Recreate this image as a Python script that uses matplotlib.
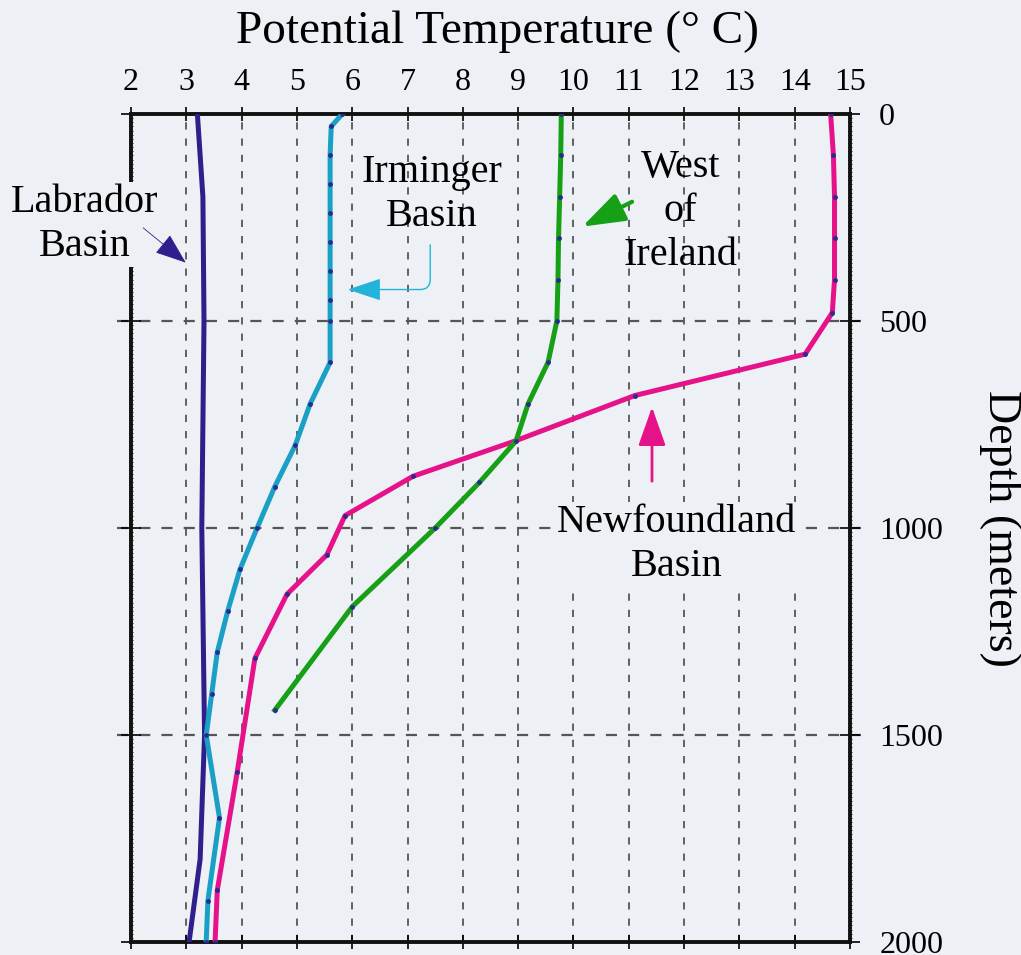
import matplotlib.pyplot as plt

plt.rcParams['font.family'] = ['Liberation Serif', 'DejaVu Serif']

# Profile data (depth in m, potential temperature in deg C)
lab_depth = [0, 200, 500, 1000, 1500, 1800, 2000]
lab_temp = [3.2, 3.3, 3.32, 3.28, 3.33, 3.25, 3.05]

irm_depth = [0, 30, 100, 170, 240, 310, 380, 450, 500, 600, 700, 800, 900, 1000,
             1100, 1200, 1300, 1400, 1500, 1700, 1900, 2000]
irm_temp = [5.82, 5.62, 5.6, 5.6, 5.6, 5.6, 5.6, 5.6, 5.6, 5.6, 5.24, 4.97, 4.6, 4.28,
            3.97, 3.75, 3.56, 3.46, 3.36, 3.6, 3.39, 3.36]

woi_depth = [0, 100, 200, 300, 400, 500, 600, 700, 790, 890, 1000, 1190, 1440]
woi_temp = [9.78, 9.77, 9.75, 9.73, 9.72, 9.7, 9.54, 9.18, 8.96, 8.3, 7.5, 6.0, 4.6]

nfl_depth = [0, 100, 200, 300, 400, 480, 580, 680, 790, 875, 970, 1065, 1160,
             1315, 1590, 1875, 2000]
nfl_temp = [14.65, 14.7, 14.72, 14.72, 14.72, 14.68, 14.19, 11.11, 8.94, 7.1, 5.87,
            5.54, 4.82, 4.24, 3.92, 3.56, 3.52]

temp_ticks = list(range(2, 16))
depth_ticks = [0, 500, 1000, 1500, 2000]

bg = '#edf0f5'
c_lab = '#2e1f8c'
c_irm = '#1aa0c4'
c_woi = '#16a016'
c_nfl = '#e6128a'
dot = '#2a2a90'

fig = plt.figure(figsize=(10.21, 9.55), dpi=100, facecolor=bg)
ax = fig.add_axes([131 / 1021, 1 - 942 / 955, 719 / 1021, 828 / 955])
ax.set_facecolor(bg)

ax.set_xlim(2, 15)
ax.set_ylim(2000, 0)

# grid
for t in temp_ticks[1:-1]:
    ax.axvline(t, color='#555555', lw=1.3, ls=(0, (4, 5)), zorder=1)
for d in depth_ticks[1:-1]:
    ax.axhline(d, xmin=-0.02, xmax=1.015, color='#555555', lw=1.6,
               ls=(0, (5, 5)), zorder=1, clip_on=False)

ax.plot(lab_temp, lab_depth, color=c_lab, lw=3.6, zorder=3)
ax.plot(irm_temp, irm_depth, color=c_irm, lw=3.6, marker='o', ms=3.5,
        mfc=dot, mec='none', zorder=3)
ax.plot(woi_temp, woi_depth, color=c_woi, lw=3.6, marker='o', ms=3.5,
        mfc=dot, mec='none', zorder=4)
ax.plot(nfl_temp, nfl_depth, color=c_nfl, lw=3.6, marker='o', ms=3.5,
        mfc=dot, mec='none', zorder=3)

# axes, ticks
for s in ax.spines.values():
    s.set_linewidth(2.8)
    s.set_color('#111111')
ax.xaxis.tick_top()
ax.set_xticks(temp_ticks)
ax.tick_params(axis='x', which='major', top=True, bottom=True, direction='inout',
               length=10, width=1.2, labelsize=23, pad=7)
ax.yaxis.tick_right()
ax.set_yticks(depth_ticks)
ax.tick_params(axis='y', which='major', left=True, right=True, direction='inout',
               length=14, width=1.2, labelsize=23, pad=14)
ax.set_yticks(range(0, 2001, 10), minor=True)
ax.tick_params(axis='y', which='minor', left=True, right=True, direction='inout',
               length=3, width=0.6)

fig.text(497 / 1021, 1 - 32 / 955, 'Potential Temperature (\u00b0 C)', fontsize=34,
         ha='center', va='center')
fig.text(1000 / 1021, 1 - 528 / 955, 'Depth (meters)', fontsize=33, rotation=-90,
         ha='center', va='center')

txt = dict(fontsize=29, ha='center', va='center', linespacing=1.25, zorder=6)

ax.text(1.17, 268, 'Labrador\nBasin', clip_on=False,
        bbox=dict(boxstyle='square,pad=0.05', fc=bg, ec='none'), **txt)
ax.annotate('', xy=(2.99, 359), xytext=(2.22, 275), annotation_clip=False,
            zorder=8,
            arrowprops=dict(arrowstyle='-|>,head_length=2.0,head_width=0.75',
                            color=c_lab, lw=0.6, shrinkA=0, shrinkB=0,
                            mutation_scale=10))

ax.text(7.44, 195, 'Irminger\nBasin', **txt)
ax.annotate('', xy=(5.92, 424), xytext=(7.41, 316),
            arrowprops=dict(arrowstyle='-|>,head_length=2.1,head_width=0.7',
                            color='#22b4d8', lw=1,
                            connectionstyle='angle,angleA=90,angleB=0,rad=10',
                            shrinkA=0, shrinkB=0, mutation_scale=10))

ax.text(11.93, 236, 'West\nof\nIreland', **txt)
ax.annotate('', xy=(10.16, 272), xytext=(11.06, 212),
            arrowprops=dict(arrowstyle='-|>,head_length=2.6,head_width=0.9',
                            color=c_woi, lw=3, shrinkA=0, shrinkB=0,
                            mutation_scale=10))

ax.text(11.86, 1039, 'Newfoundland\nBasin',
        bbox=dict(boxstyle='square,pad=0.05', fc=bg, ec='none'), **txt)
ax.annotate('', xy=(11.42, 708), xytext=(11.42, 887),
            arrowprops=dict(arrowstyle='-|>,head_length=2.4,head_width=0.85',
                            color=c_nfl, lw=2, shrinkA=0, shrinkB=0,
                            mutation_scale=10))

fig.savefig('out.png', dpi=100, facecolor=bg)
